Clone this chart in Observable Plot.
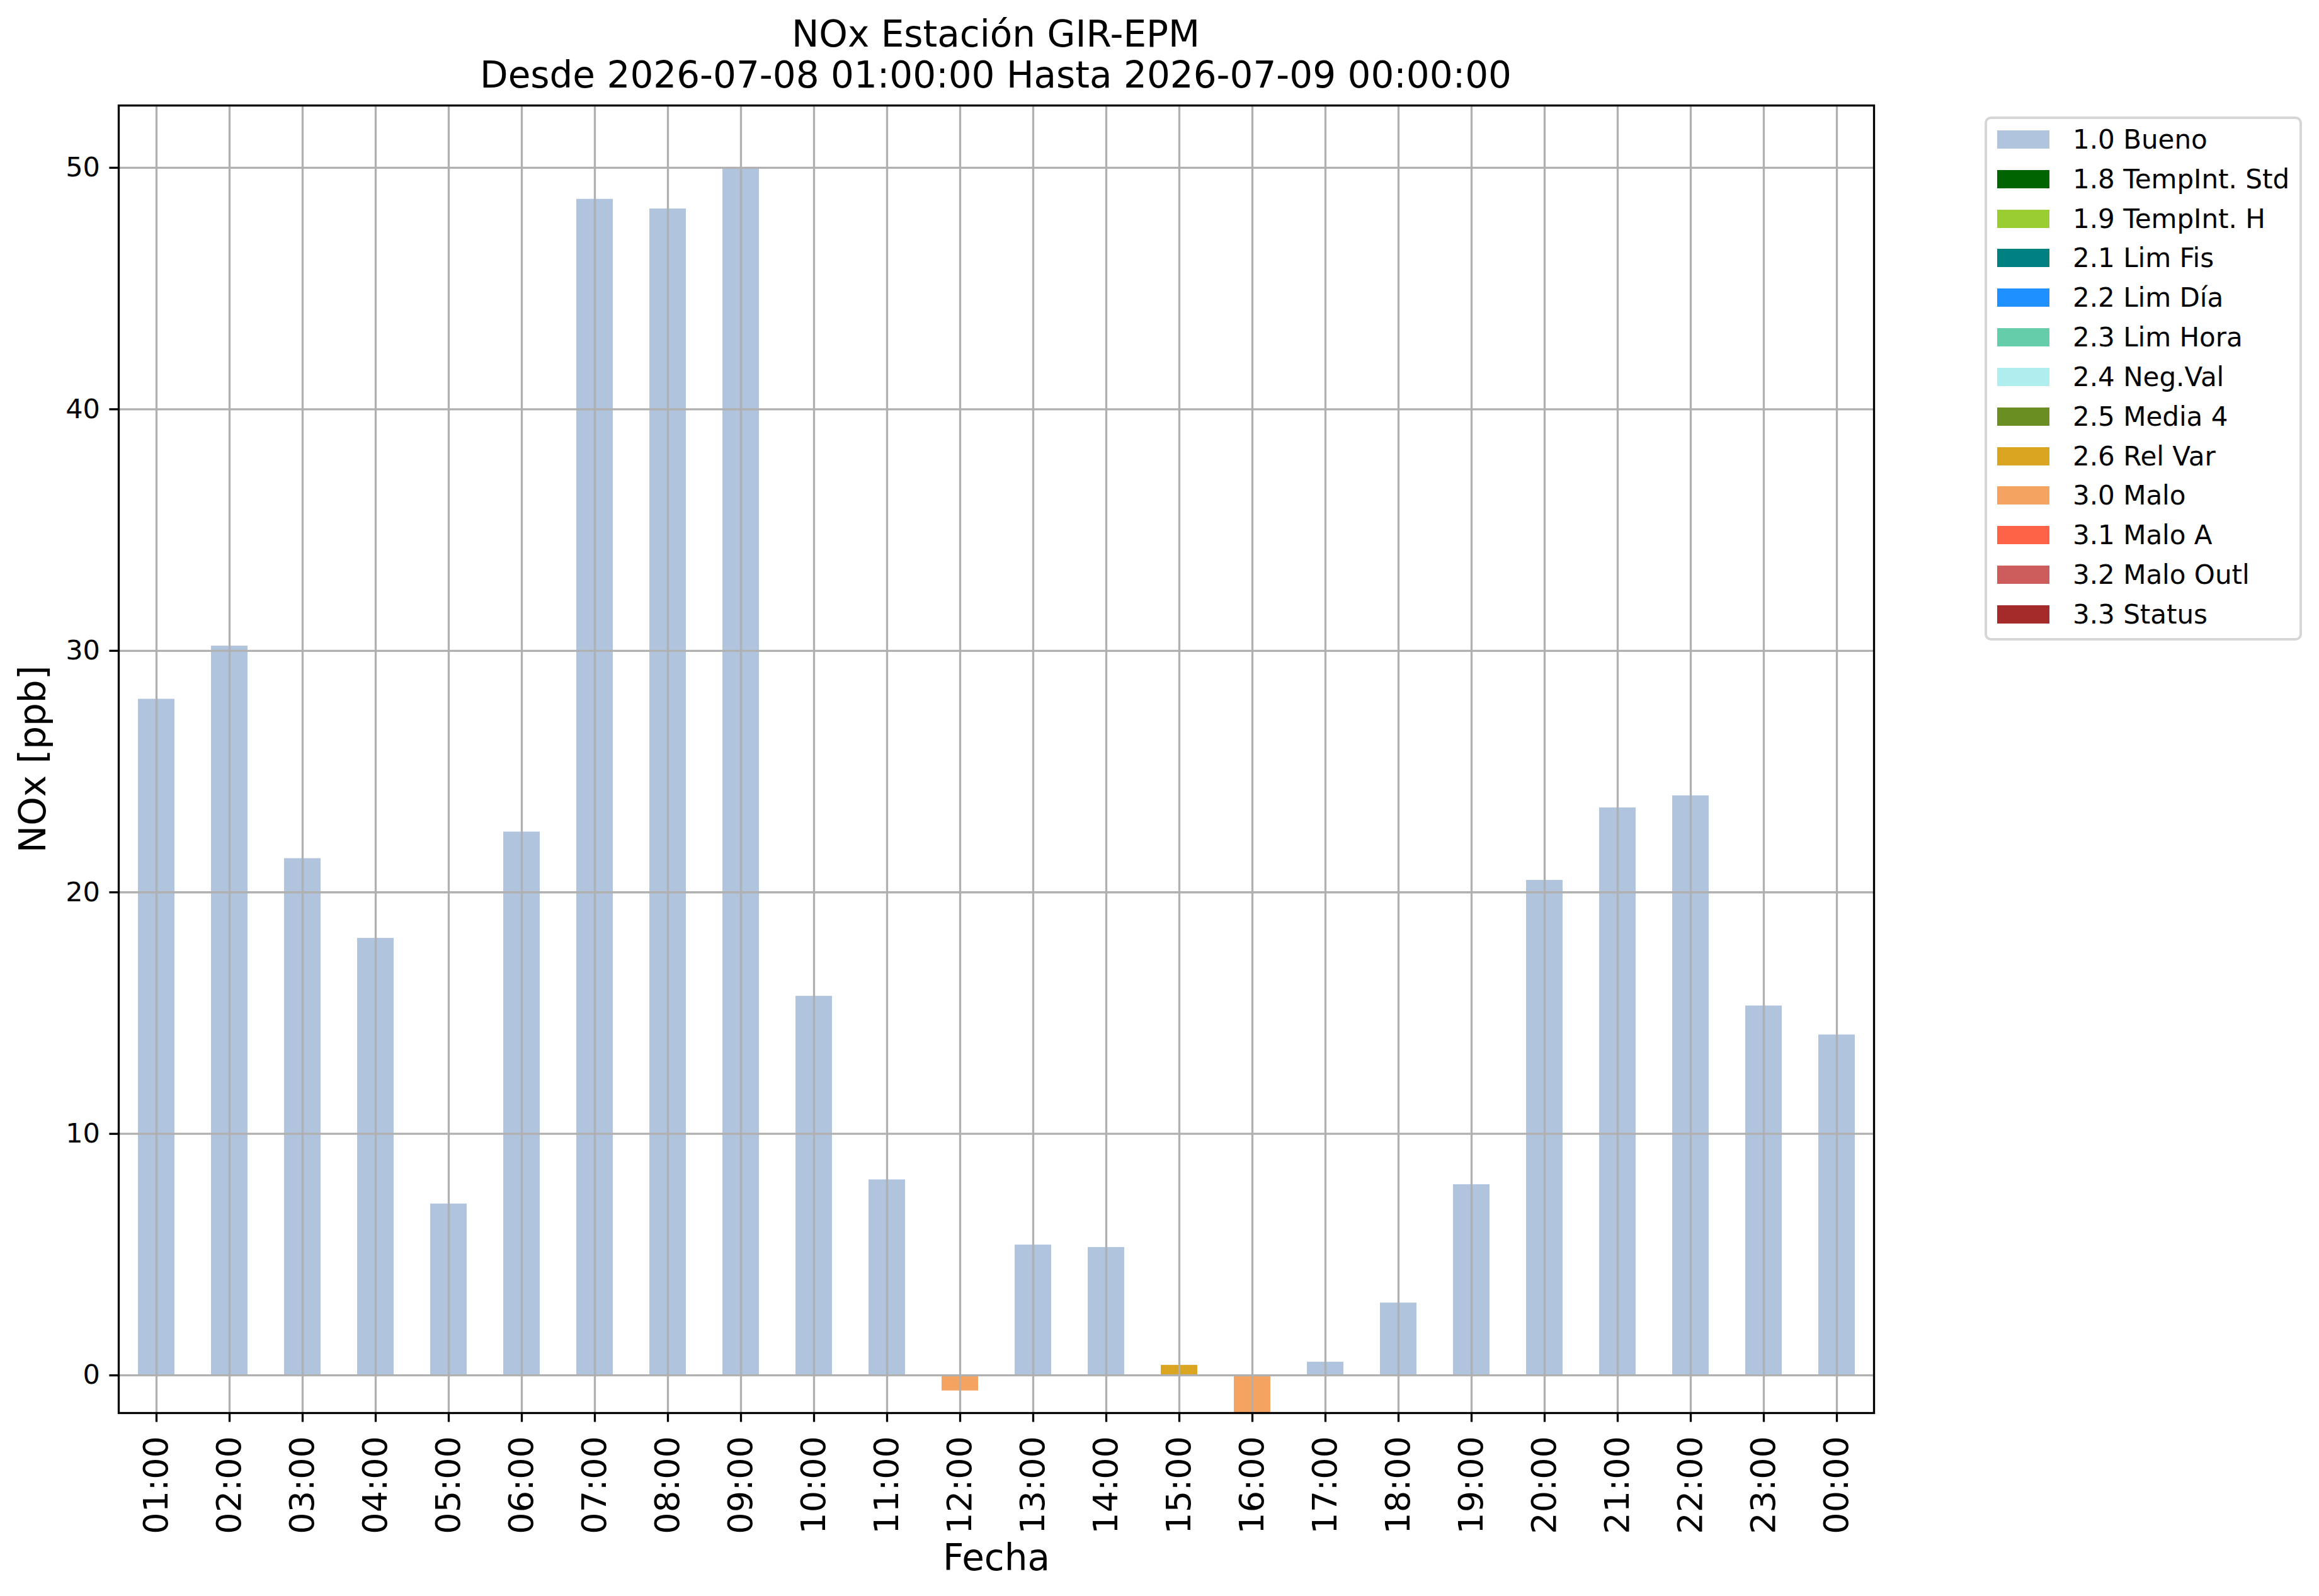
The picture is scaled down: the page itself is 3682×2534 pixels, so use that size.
<!DOCTYPE html>
<html><head><meta charset="utf-8">
<script src="https://cdn.jsdelivr.net/npm/d3@7"></script>
<script src="https://cdn.jsdelivr.net/npm/@observablehq/plot@0.6"></script>
<style>
body{margin:0;background:#fff;font-family:"DejaVu Sans",sans-serif;}
#wrap{position:relative;width:3682px;height:2534px;overflow:hidden;background:#fff;}
#chart{position:absolute;left:0;top:0;}
#title{position:absolute;left:0;top:22px;width:3162px;text-align:center;font-size:58px;line-height:65px;color:#000;white-space:nowrap;}
#legend{position:absolute;left:3151px;top:185px;width:504px;height:832px;box-sizing:border-box;border:4px solid #d6d6d6;border-radius:10px;background:rgba(255,255,255,0.8);padding:1px 0 0 16px;font-size:42px;color:#000;}
.row{height:62.83px;display:flex;align-items:center;white-space:nowrap;}
.sw{width:83px;height:29px;margin-right:37px;flex:none;}
</style></head>
<body><div id="wrap"><div id="chart"></div><div id="title"></div><div id="legend"></div></div>
<script>
const titleLines = ["NOx Estación GIR-EPM", "Desde 2026-07-08 01:00:00 Hasta 2026-07-09 00:00:00"];
const yLabel = "NOx [ppb]";
const xLabel = "Fecha";
const hours = ["01:00","02:00","03:00","04:00","05:00","06:00","07:00","08:00","09:00","10:00","11:00","12:00",
               "13:00","14:00","15:00","16:00","17:00","18:00","19:00","20:00","21:00","22:00","23:00","00:00"];
const nox = [28.0, 30.2, 21.4, 18.1, 7.1, 22.5, 48.7, 48.3, 50.0, 15.7, 8.1, -0.64,
             5.4, 5.3, 0.42, -1.56, 0.55, 3.0, 7.9, 20.5, 23.5, 24.0, 15.3, 14.1];
const flags = ["1.0 Bueno","1.0 Bueno","1.0 Bueno","1.0 Bueno","1.0 Bueno","1.0 Bueno","1.0 Bueno","1.0 Bueno",
               "1.0 Bueno","1.0 Bueno","1.0 Bueno","3.0 Malo","1.0 Bueno","1.0 Bueno","2.6 Rel Var","3.0 Malo",
               "1.0 Bueno","1.0 Bueno","1.0 Bueno","1.0 Bueno","1.0 Bueno","1.0 Bueno","1.0 Bueno","1.0 Bueno"];
const categories = ["1.0 Bueno","1.8 TempInt. Std","1.9 TempInt. H","2.1 Lim Fis","2.2 Lim Día","2.3 Lim Hora",
                    "2.4 Neg.Val","2.5 Media 4","2.6 Rel Var","3.0 Malo","3.1 Malo A","3.2 Malo Outl","3.3 Status"];
const colors = ["#b0c4de","#006400","#9acd32","#008080","#1e90ff","#66cdaa",
                "#afeeee","#6b8e23","#daa520","#f4a460","#ff6347","#cd5c5c","#a52a2a"];
const yTicks = [0, 10, 20, 30, 40, 50];

const data = hours.map((h, i) => ({hour: h, value: nox[i], flag: flags[i]}));
const yMin = d3.min(nox), yMax = d3.max(nox);

const chart = Plot.plot({
  width: 3682, height: 2534,
  marginLeft: 188, marginRight: 707, marginTop: 167, marginBottom: 291,
  style: {fontFamily: "DejaVu Sans", background: "white", overflow: "visible", color: "black"},
  x: {type: "band", domain: hours, paddingInner: 0.5, paddingOuter: 0.25},
  y: {domain: [yMin, yMax + 0.05 * (yMax - yMin)]},
  color: {domain: categories, range: colors},
  marks: [
    Plot.barY(data, {x: "hour", y: "value", fill: "flag"}),
    Plot.gridX({stroke: "#b0b0b0", strokeOpacity: 1, strokeWidth: 3.3}),
    Plot.gridY(yTicks, {stroke: "#b0b0b0", strokeOpacity: 1, strokeWidth: 3.3}),
    Plot.frame({stroke: "black", strokeWidth: 3.3}),
    Plot.axisY(yTicks, {tickSize: 14.6, tickPadding: 15, fontSize: 43, strokeWidth: 3.3, label: null}),
    Plot.axisY({ticks: [], label: yLabel, labelAnchor: "center", labelArrow: "none", labelOffset: 158, fontSize: 58}),
    Plot.axisX({tickSize: 14.6, tickPadding: 22, tickRotate: -90, fontSize: 54, strokeWidth: 3.3, label: null}),
    Plot.axisX({ticks: [], label: xLabel, labelAnchor: "center", labelArrow: "none", labelOffset: 249, fontSize: 58})
  ]
});
document.getElementById("chart").appendChild(chart);

const t = document.getElementById("title");
titleLines.forEach(l => { const d = document.createElement("div"); d.textContent = l; t.appendChild(d); });

const lg = document.getElementById("legend");
categories.forEach((c, i) => {
  const r = document.createElement("div"); r.className = "row";
  const s = document.createElement("div"); s.className = "sw"; s.style.background = colors[i];
  const tx = document.createElement("span"); tx.textContent = c;
  r.appendChild(s); r.appendChild(tx); lg.appendChild(r);
});
</script>
</body></html>
